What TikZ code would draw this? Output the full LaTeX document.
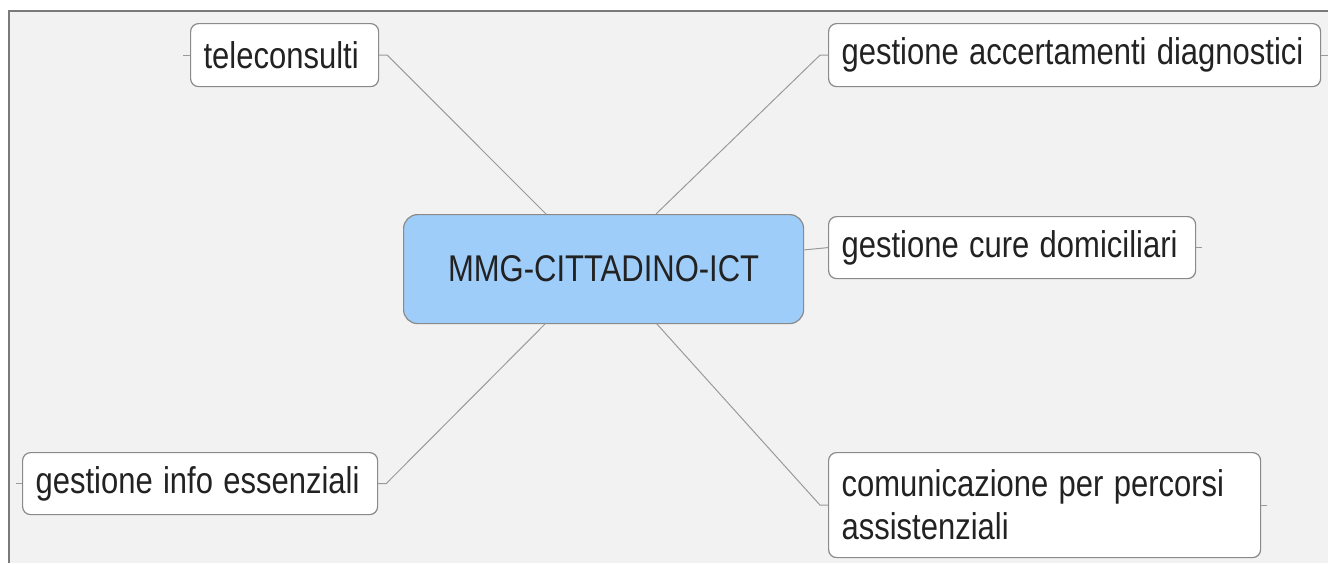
\documentclass[tikz,border=0pt]{standalone}
\usepackage{fontspec}
\setmainfont{Liberation Sans}
\newcommand{\tall}[1]{\scalebox{1}[1.2]{#1}}
\definecolor{bggray}{HTML}{F2F2F2}
\definecolor{framegray}{HTML}{7A7A7A}
\definecolor{boxgray}{HTML}{8A8A8A}
\definecolor{linegray}{HTML}{9A9A9A}
\definecolor{mainblue}{HTML}{9FCDFA}
\definecolor{txt}{HTML}{222222}
\begin{document}
\begin{tikzpicture}[x=1pt,y=-1pt,
    topic/.style={draw=boxgray,line width=1.2pt,fill=white,rounded corners=8pt,
        anchor=north west,inner xsep=13pt,inner ysep=0pt,align=left,text=txt,
        font=\fontsize{31}{43}\selectfont,minimum height=63pt},
    central/.style={draw=boxgray,line width=1.2pt,fill=mainblue,rounded corners=14pt,
        anchor=north west,minimum width=400pt,minimum height=109pt,text=txt,
        font=\fontsize{31}{43}\selectfont},
    branch/.style={draw=linegray,line width=1pt}]
    \useasboundingbox (0,0) rectangle (1328,563);
    \fill [bggray] (9,11) rectangle (1328,563);
    \draw [framegray,line width=2pt] (9,563) -- (9,11) -- (1328,11);

    \node [central] (mmg) at (403,214) {\tall{MMG-CITTADINO-ICT}};

    \node [topic,text width=162pt] (tele) at (190,23) {\tall{teleconsulti}};
    \node [topic,text width=466pt] (acc) at (828,23) {\tall{gestione accertamenti diagnostici}};
    \node [topic,text width=341pt,minimum height=62pt] (cure) at (828,216) {\tall{gestione cure domiciliari}};
    \node [topic,text width=329pt,minimum height=62pt] (info) at (22,452) {\tall{gestione info essenziali}};
    \node [topic,text width=406pt,minimum height=105pt] (com) at (828,452) {\tall{comunicazione per percorsi}\\\tall{assistenziali}};

    \coordinate (mmgtl) at (546,214);
    \coordinate (mmgtr) at (656,214);
    \coordinate (mmgbl) at (546,323);
    \coordinate (mmgbr) at (656,323);
    \coordinate (mmgr) at (803,250);

    \draw [branch] (tele.east) -- ++(8,0) -- (mmgtl);
    \draw [branch] (acc.west) -- ++(-8,0) -- (mmgtr);
    \draw [branch] (cure.west) -- (mmgr);
    \draw [branch] (info.east) -- ++(8,0) -- (mmgbl);
    \draw [branch] (com.west) -- ++(-8,0) -- (mmgbr);

    \draw [branch] (tele.west) -- ++(-7,0);
    \draw [branch] (info.west) -- ++(-6,0);
    \draw [branch] (acc.east) -- ++(8,0);
    \draw [branch] (cure.east) -- ++(6,0);
    \draw [branch] (com.east) -- ++(6,0);
\end{tikzpicture}
\end{document}
